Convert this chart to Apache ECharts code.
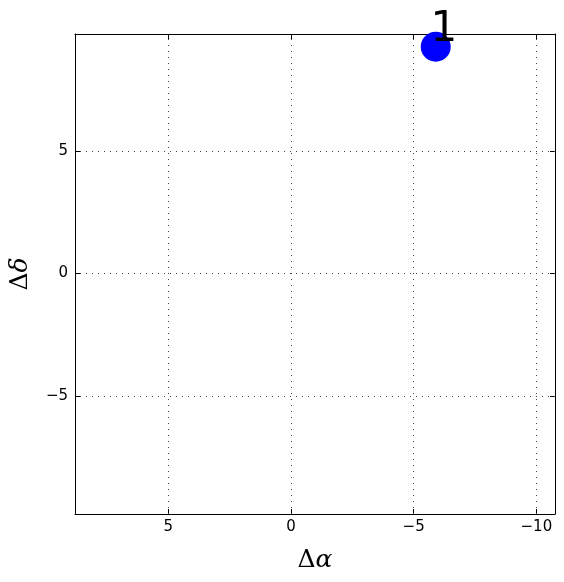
<!DOCTYPE html>
<html><head><meta charset="utf-8">
<script src="https://cdn.jsdelivr.net/npm/echarts@6/dist/echarts.min.js"></script>
<style>html,body{margin:0;padding:0;background:#fff}#c{width:564px;height:582px}</style>
</head><body><div id="c"></div>
<script>
const pointLabels = ['1'];
const dAlpha = [-5.9];
const dDelta = [9.26];
const xRange = [-10.76, 8.8];
const yRange = [-9.82, 9.78];
const xTicks = [-10, -5, 0, 5];
const yTicks = [-5, 0, 5];

const chart = echarts.init(document.getElementById('c'), null, {renderer: 'canvas'});
const fmt = v => String(v).replace('-', '\u2212');
const lblFont = {fontFamily: 'DejaVu Sans', fontSize: 15, color: '#000'};
const grid = {left: 75, right: 9, top: 34, bottom: 68, outerBoundsMode: 'none', containLabel: false};
const nameStyle = {rich: {d: {fontFamily: 'DejaVu Serif', fontSize: 25, color: '#000'}, a: {fontFamily: 'DejaVu Serif', fontStyle: 'italic', fontSize: 25, color: '#000'}}};
function mkX(pos, show) {
  return {type: 'value', position: pos, inverse: true, min: xRange[0], max: xRange[1],
    axisLine: {show: true, onZero: false, lineStyle: {color: '#000', width: 1}},
    axisTick: {show: true, inside: true, length: 5, customValues: xTicks, lineStyle: {color: '#000'}},
    axisLabel: {show: show, margin: 6, customValues: xTicks, formatter: fmt, ...lblFont},
    splitLine: {show: false},
    name: show ? '{d|Δ}{a|α}' : '', nameLocation: 'middle', nameGap: 34, nameTextStyle: nameStyle
  };
}
function mkY(pos, show) {
  return {type: 'value', position: pos, min: yRange[0], max: yRange[1],
    axisLine: {show: true, onZero: false, lineStyle: {color: '#000', width: 1}},
    axisTick: {show: true, inside: true, length: 5, customValues: yTicks, lineStyle: {color: '#000'}},
    axisLabel: {show: show, margin: 7, customValues: yTicks, formatter: fmt, ...lblFont},
    splitLine: {show: false},
    name: show ? '{d|Δ}{a|δ}' : '', nameLocation: 'middle', nameGap: 42, nameTextStyle: nameStyle
  };
}
const gridLines = xTicks.map(v => ({xAxis: v})).concat(yTicks.map(v => ({yAxis: v})));
chart.setOption({
  animation: false,
  backgroundColor: '#fff',
  grid: grid,
  xAxis: [mkX('bottom', true), mkX('top', false)],
  yAxis: [mkY('left', true), mkY('right', false)],
  series: [{
    type: 'scatter', xAxisIndex: 0, yAxisIndex: 0,
    data: dAlpha.map((x, i) => [x, dDelta[i], pointLabels[i]]),
    symbolSize: 30,
    clip: false,
    z: 5,
    itemStyle: {color: '#0000ff', opacity: 1},
    label: {show: true, position: 'inside', formatter: p => p.data[2], offset: [8, -17],
      fontFamily: 'DejaVu Sans', fontSize: 42, color: '#000'},
    markLine: {silent: true, symbol: 'none', z: 1, label: {show: false},
      lineStyle: {color: '#444', type: [1, 5], width: 1, opacity: 1},
      data: gridLines}
  }]
});
</script></body></html>
